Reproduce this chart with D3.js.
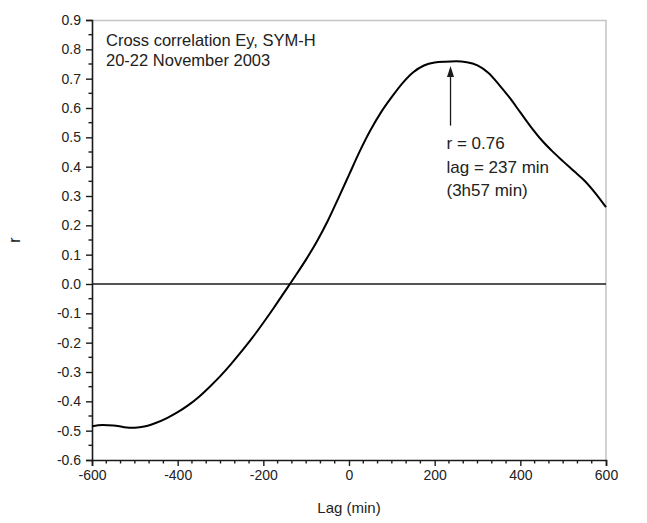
<!DOCTYPE html>
<html>
<head>
<meta charset="utf-8">
<script src="https://cdn.jsdelivr.net/npm/d3@7"></script>
<style>
  html, body { margin: 0; padding: 0; background: #fff; }
  svg { display: block; font-family: "Liberation Sans", Arial, sans-serif; }
</style>
</head>
<body>
<svg id="chart" width="647" height="523"></svg>
<script>
// Lag (minutes) and cross-correlation coefficient r between Ey and SYM-H
const lags = [-600,-575,-550,-525,-500,-475,-450,-425,-400,-375,-350,-325,-300,-275,-250,-225,
  -200,-175,-150,-125,-100,-75,-50,-25,0,25,50,75,100,125,150,175,200,225,250,275,300,325,
  350,375,400,425,450,475,500,525,550,575,600];
const rValues = [-0.485,-0.481,-0.482,-0.488,-0.490,-0.485,-0.473,-0.457,-0.437,-0.413,-0.384,
  -0.350,-0.313,-0.272,-0.228,-0.182,-0.132,-0.080,-0.026,0.028,0.084,0.145,0.214,0.292,0.372,
  0.452,0.524,0.586,0.638,0.685,0.722,0.745,0.755,0.758,0.759,0.756,0.745,0.720,0.680,0.635,
  0.585,0.535,0.490,0.452,0.418,0.385,0.352,0.310,0.262];

const xTicks = [-600,-400,-200,0,200,400,600];
const yTicks = [-6,-5,-4,-3,-2,-1,0,1,2,3,4,5,6,7,8,9].map(v => v / 10);

const titleLines = ["Cross correlation Ey, SYM-H", "20-22 November 2003"];
const peakLag = 237;
const peakR = 0.76;
const noteLines = ["r = " + peakR.toFixed(2), "lag = " + peakLag + " min", "(3h57 min)"];

const W = 647, H = 523;
const margin = { top: 20, right: 41, bottom: 63, left: 92 };
const iw = W - margin.left - margin.right;
const ih = H - margin.top - margin.bottom;

const svg = d3.select("#chart");
const g = svg.append("g").attr("transform", `translate(${margin.left},${margin.top})`);

const x = d3.scaleLinear().domain([-600, 600]).range([0, iw]);
const y = d3.scaleLinear().domain([-0.6, 0.9]).range([ih, 0]);

const ink = "#1a1a1a";

// top and right frame (light)
g.append("path")
  .attr("d", `M0,0.5H${iw}V${ih}`)
  .attr("fill", "none").attr("stroke", "#c4c4c4").attr("stroke-width", 1.5);

// zero reference line
g.append("line")
  .attr("x1", 0).attr("x2", iw).attr("y1", y(0)).attr("y2", y(0))
  .attr("stroke", ink).attr("stroke-width", 1.6);

// minor ticks: five between majors on x, one between majors on y
const xMinor = d3.range(0, 37).map(i => -600 + i * 200 / 6).filter((v, i) => i % 6 !== 0);
const yMinor = d3.range(0, 15).map(i => (-0.55 + i * 0.1));

const xAxis = d3.axisBottom(x).tickValues(xTicks).tickFormat(d => String(d)).tickSize(6).tickPadding(4);
const yAxis = d3.axisLeft(y).tickValues(yTicks).tickFormat(d => d.toFixed(1)).tickSize(6).tickPadding(5);

const gx = g.append("g").attr("transform", `translate(0,${ih})`).call(xAxis);
gx.append("g").selectAll("line").data(xMinor).join("line")
  .attr("x1", d => x(d)).attr("x2", d => x(d)).attr("y1", 0).attr("y2", 3.5)
  .attr("stroke", ink).attr("stroke-width", 1.4);

const gy = g.append("g").call(yAxis);
gy.append("g").selectAll("line").data(yMinor).join("line")
  .attr("y1", d => y(d)).attr("y2", d => y(d)).attr("x1", 0).attr("x2", -3.5)
  .attr("stroke", ink).attr("stroke-width", 1.4);

[gx, gy].forEach(a => {
  a.select(".domain").attr("stroke", ink).attr("stroke-width", 1.6);
  a.selectAll(".tick line").attr("stroke", ink).attr("stroke-width", 1.4);
  a.selectAll(".tick text").attr("fill", "#222").style("font-size", "14px")
    .style("font-family", "'Liberation Sans', Arial, sans-serif");
});

// correlation curve
const line = d3.line()
  .x((d, i) => x(lags[i]))
  .y(d => y(d))
  .curve(d3.curveMonotoneX);
g.append("path")
  .datum(rValues)
  .attr("d", line)
  .attr("fill", "none").attr("stroke", "#000").attr("stroke-width", 2)
  .attr("stroke-linejoin", "round");

// arrow pointing to the peak
const ax = x(peakLag);
const tipY = y(peakR) + 5;
g.append("line")
  .attr("x1", ax).attr("x2", ax).attr("y1", tipY + 8).attr("y2", y(0.54))
  .attr("stroke", ink).attr("stroke-width", 1.3);
g.append("path")
  .attr("d", `M${ax},${tipY}L${ax - 3.5},${tipY + 11}L${ax + 3.5},${tipY + 11}Z`)
  .attr("fill", ink);

// peak annotation
const note = g.append("text").attr("fill", "#222").style("font-size", "17px");
noteLines.forEach((t, i) => {
  note.append("tspan").attr("x", ax - 4).attr("y", 129 + i * 23.5).text(t);
});

// title block
const title = g.append("text").attr("fill", "#222").style("font-size", "16.5px");
titleLines.forEach((t, i) => {
  title.append("tspan").attr("x", 14).attr("y", 26 + i * 19.5).text(t);
});

// axis titles
svg.append("text")
  .attr("x", margin.left + x(0)).attr("y", 513)
  .attr("text-anchor", "middle").attr("fill", "#222").style("font-size", "15px")
  .text("Lag (min)");
svg.append("text")
  .attr("transform", `translate(20,${margin.top + ih / 2}) rotate(-90)`)
  .attr("text-anchor", "middle").attr("fill", "#222").style("font-size", "16px")
  .text("r");
</script>
</body>
</html>
